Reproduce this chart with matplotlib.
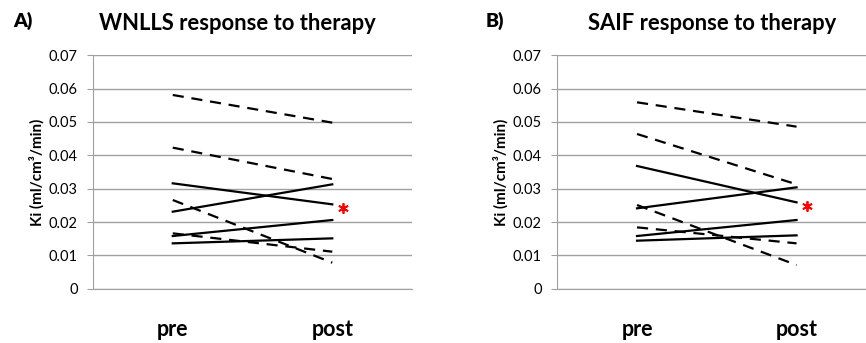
import matplotlib as mpl
import matplotlib.pyplot as plt

mpl.rcParams.update({"font.family": ["Lato", "DejaVu Sans"], "font.size": 10})

# -----------------------------
# Ki values per lesion, pre / post therapy
# -----------------------------
phases = ["pre", "post"]

# WNLLS fits
wnlls_dashed = [
    [0.0581, 0.0498],
    [0.0423, 0.0329],
    [0.0266, 0.0078],
    [0.0166, 0.0111],
]
wnlls_solid = [
    [0.0316, 0.0253],
    [0.0231, 0.0313],
    [0.0158, 0.0206],
    [0.0136, 0.0151],
]

# SAIF fits
saif_dashed = [
    [0.0559, 0.0486],
    [0.0464, 0.0313],
    [0.0251, 0.0071],
    [0.0184, 0.0136],
]
saif_solid = [
    [0.0368, 0.0259],
    [0.0241, 0.0304],
    [0.0158, 0.0206],
    [0.0144, 0.0160],
]

yticks = [0, 0.01, 0.02, 0.03, 0.04, 0.05, 0.06, 0.07]
ytick_labels = ["0", "0.01", "0.02", "0.03", "0.04", "0.05", "0.06", "0.07"]


def draw_panel(ax, dashed, solid):
    x = range(len(phases))
    for vals in dashed:
        ax.plot(x, vals, color="black", lw=1.6, linestyle=(0, (5, 3.5)))
    for vals in solid:
        ax.plot(x, vals, color="black", lw=1.6)

    # significant change marker next to the post value
    ax.plot(1.066, solid[0][1] - 0.0012, marker=(6, 2, 0), ms=7.5, mew=1.3,
            color="red", clip_on=False)

    ax.set_xlim(-0.5, 1.5)
    ax.set_ylim(0, 0.07)
    ax.set_yticks(yticks)
    ax.set_yticklabels(ytick_labels, fontsize=10.5)
    ax.yaxis.grid(True, color="#a0a0a0", lw=1.0)
    ax.set_axisbelow(True)
    ax.tick_params(axis="y", length=4, color="#a0a0a0", pad=7)
    ax.set_xticks(list(x))
    ax.set_xticklabels(phases, fontsize=15.5, fontweight="bold")
    ax.tick_params(axis="x", length=0, pad=22)
    for side in ["top", "right"]:
        ax.spines[side].set_visible(False)
    ax.spines["left"].set_color("#a0a0a0")
    ax.spines["bottom"].set_color("#a0a0a0")
    ax.set_ylabel("Ki (ml/cm³/min)", fontsize=11, fontweight="bold", labelpad=3)


fig = plt.figure(figsize=(8.66, 3.43), dpi=100)
ax0 = fig.add_axes([0.1074, 0.1583, 0.3684, 0.6805])
ax1 = fig.add_axes([0.6435, 0.1583, 0.3684, 0.6805])

draw_panel(ax0, wnlls_dashed, wnlls_solid)
draw_panel(ax1, saif_dashed, saif_solid)

fig.text(0.274, 0.932, "WNLLS response to therapy", fontsize=15.8,
         fontweight="bold", ha="center", va="center")
fig.text(0.822, 0.932, "SAIF response to therapy", fontsize=15.8,
         fontweight="bold", ha="center", va="center")
fig.text(0.026, 0.94, "A)", fontsize=14, fontweight="heavy", ha="center", va="center")
fig.text(0.571, 0.94, "B)", fontsize=14, fontweight="heavy", ha="center", va="center")

fig.savefig("out.png", dpi=100)
